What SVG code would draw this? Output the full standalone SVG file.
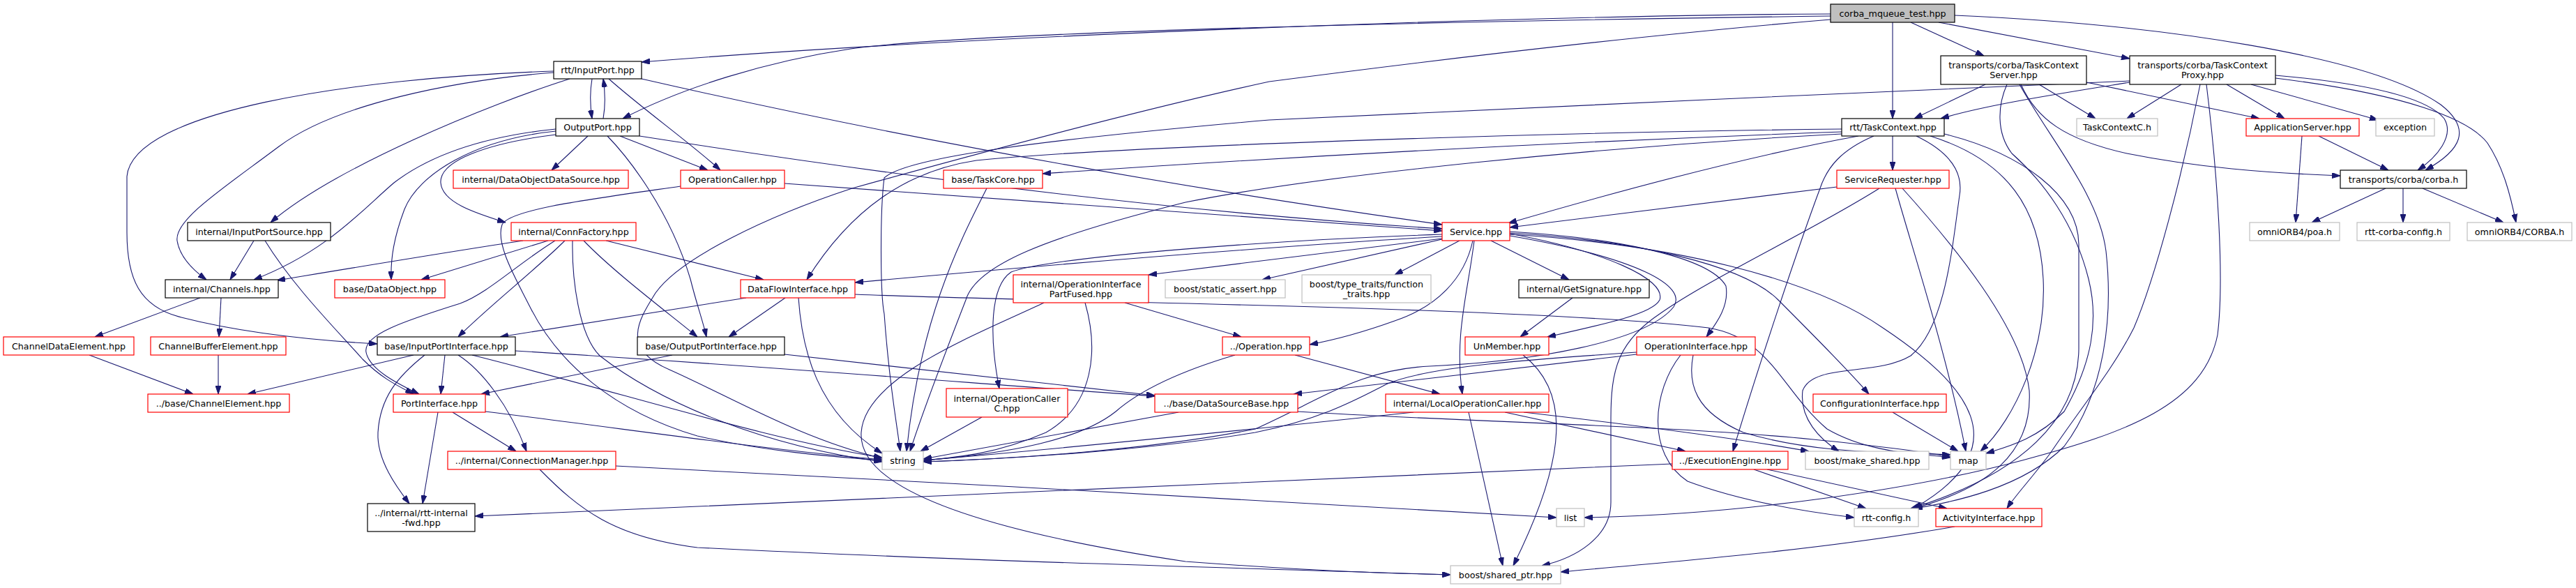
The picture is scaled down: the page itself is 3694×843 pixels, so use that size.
<svg xmlns="http://www.w3.org/2000/svg" width="3694" height="843" viewBox="0 0 3694 843">
<style>
.e{fill:none;stroke:#191970;stroke-width:1.1;marker-end:url(#ah)}
.b{fill:#fff;stroke:#000;stroke-width:1.2}
.r{fill:#fff;stroke:#ff0000;stroke-width:1.2}
.g{fill:#fff;stroke:#bfbfbf;stroke-width:1.2}
.root{fill:#bfbfbf;stroke:#000;stroke-width:1.2}
text{font-family:"DejaVu Sans","Liberation Sans",sans-serif;font-size:12.7px;text-anchor:middle;fill:#000}
</style>
<defs>
<marker id="ah" markerWidth="12" markerHeight="8" refX="12" refY="4" orient="auto" markerUnits="userSpaceOnUse"><path d="M0,0 L12,4 L0,8 z" fill="#191970" stroke="#191970" stroke-width="1"/></marker>
</defs>
<rect width="3694" height="843" fill="#fff"/>
<g id="edges">
<path class="e" d="M2625,20 C2200,22 1400,50 920,89"/>
<path class="e" d="M2625,23 C2100,30 1400,45 1220,70 C1100,88 980,125 893,170"/>
<path class="e" d="M2714,32 L2714,170"/>
<path class="e" d="M2740,32 L2845,80"/>
<path class="e" d="M2780,32 L3054,84"/>
<path class="e" d="M2803,22 C3100,35 3400,80 3500,150 C3545,185 3530,215 3478,244"/>
<path class="e" d="M2625,28 C2300,55 1950,100 1820,117 C1600,165 1330,240 1222,270 C1100,310 975,370 940,420 C915,460 890,500 960,530 C1050,570 1150,630 1265,657"/>
<path class="e" d="M849,113 C846,130 846,150 849,170"/>
<path class="e" d="M865,170 C868,153 868,133 865,113"/>
<path class="e" d="M873,113 C920,155 990,205 1033,244"/>
<path class="e" d="M920,113 C1300,200 1700,270 2068,322"/>
<path class="e" d="M817,113 C700,150 480,240 388,319"/>
<path class="e" d="M794,104 C650,115 480,150 400,210 C320,270 250,315 254,345 C258,370 278,388 296,401"/>
<path class="e" d="M794,102 C500,112 190,160 182,253 L182,333 C182,400 200,440 260,455 C350,478 450,488 541,493"/>
<path class="e" d="M843,195 L791,244"/>
<path class="e" d="M889,195 L1015,244"/>
<path class="e" d="M917,195 C1300,255 1700,305 2068,328"/>
<path class="e" d="M871,195 C900,225 960,300 990,400 C1000,440 1008,460 1013,483"/>
<path class="e" d="M797,185 C700,195 620,220 565,262 C520,300 470,360 364,401"/>
<path class="e" d="M797,188 C680,200 600,250 580,300 C565,340 560,370 561,401"/>
<path class="e" d="M797,193 C700,205 630,230 632,262 C634,290 680,305 725,319"/>
<path class="e" d="M976,267 C850,285 730,300 720,322 C710,350 740,400 760,440 C800,520 880,590 1000,625 C1100,648 1200,655 1265,660"/>
<path class="e" d="M1125,263 C1500,290 1800,310 2068,331"/>
<path class="e" d="M750,345 C650,360 500,385 397,402"/>
<path class="e" d="M786,345 L604,401"/>
<path class="e" d="M810,345 C770,385 700,440 657,483"/>
<path class="e" d="M796,345 C740,380 700,420 660,435 C580,460 520,480 525,505 C530,530 570,550 601,565"/>
<path class="e" d="M821,345 C820,400 830,480 860,510 C950,580 1100,640 1265,662"/>
<path class="e" d="M837,345 C880,390 960,450 1000,483"/>
<path class="e" d="M869,345 L1095,401"/>
<path class="e" d="M364,345 L330,401"/>
<path class="e" d="M380,345 C420,410 480,470 520,515 C550,545 575,555 593,565"/>
<path class="e" d="M287,427 L136,483"/>
<path class="e" d="M317,427 L314,483"/>
<path class="e" d="M128,509 L277,565"/>
<path class="e" d="M313,509 L313,565"/>
<path class="e" d="M593,509 L355,565"/>
<path class="e" d="M638,509 L632,565"/>
<path class="e" d="M657,509 C690,530 730,580 755,647"/>
<path class="e" d="M609,509 C570,540 545,570 542,620 C540,660 570,700 587,722"/>
<path class="e" d="M677,509 C900,565 1100,630 1265,656"/>
<path class="e" d="M739,503 C1100,525 1400,550 1656,568"/>
<path class="e" d="M964,509 L690,565"/>
<path class="e" d="M1125,508 L1656,567"/>
<path class="e" d="M628,591 L606,722"/>
<path class="e" d="M649,591 L740,647"/>
<path class="e" d="M696,590 C900,615 1100,645 1265,659"/>
<path class="e" d="M883,668 C1300,690 1900,720 2232,742"/>
<path class="e" d="M774,673 C830,730 880,770 1000,785 C1400,805 1800,815 2080,824"/>
<path class="e" d="M1070,427 L717,483"/>
<path class="e" d="M1126,427 L1045,483"/>
<path class="e" d="M1145,427 C1150,500 1170,590 1265,650"/>
<path class="e" d="M1226,422 C1500,433 2200,440 2450,470 C2540,485 2555,560 2620,615 C2680,650 2750,650 2797,656"/>
<path class="e" d="M1415,270 C1380,340 1320,450 1300,647"/>
<path class="e" d="M2641,189 C2200,205 1800,228 1495,249"/>
<path class="e" d="M2641,185 C2200,190 1600,210 1400,230 C1300,245 1220,300 1157,401"/>
<path class="e" d="M2641,192 C2300,210 1900,250 1700,290 C1500,340 1400,380 1385,430 C1350,520 1320,600 1305,647"/>
<path class="e" d="M2665,195 C2500,225 2300,280 2163,320"/>
<path class="e" d="M2714,195 L2714,244"/>
<path class="e" d="M2687,195 C2640,215 2620,240 2610,270 C2580,350 2520,530 2485,647"/>
<path class="e" d="M2748,195 C2800,220 2815,250 2810,280 C2800,350 2790,470 2740,510 C2690,540 2600,520 2585,560 C2580,600 2610,630 2637,647"/>
<path class="e" d="M2768,195 C2880,230 2925,300 2930,400 C2935,500 2890,600 2840,647"/>
<path class="e" d="M2788,192 C2900,220 2980,280 2981,350 L2981,500 C2980,600 2900,680 2740,729"/>
<path class="e" d="M2847,121 L2745,170"/>
<path class="e" d="M2924,121 L3005,170"/>
<path class="e" d="M2992,118 L3240,170"/>
<path class="e" d="M2898,121 C2920,170 2960,200 3050,220 C3150,240 3250,248 3356,252"/>
<path class="e" d="M2878,121 C2865,150 2862,190 2885,220 C2930,260 2975,320 2995,400 C3010,460 3000,520 2960,590 C2920,630 2880,640 2848,650"/>
<path class="e" d="M2896,121 C2940,200 3010,280 3020,360 C3030,450 3020,560 2960,640 C2900,700 2800,720 2745,729"/>
<path class="e" d="M3054,118 C2950,135 2850,150 2783,170"/>
<path class="e" d="M3128,121 L3050,170"/>
<path class="e" d="M3193,121 L3276,170"/>
<path class="e" d="M3228,121 L3410,172"/>
<path class="e" d="M3263,108 C3400,120 3480,140 3505,170 C3520,195 3495,225 3467,244"/>
<path class="e" d="M3263,112 C3450,135 3540,170 3567,205 C3590,240 3600,280 3608,319"/>
<path class="e" d="M3054,116 C2800,125 2000,165 1820,172 C1500,200 1300,225 1268,255 C1262,300 1262,420 1268,450 C1275,550 1285,600 1291,647"/>
<path class="e" d="M3155,121 C3130,250 3090,400 3060,470 C3030,530 2980,590 2940,650 C2910,690 2890,710 2878,729"/>
<path class="e" d="M3164,121 C3180,250 3190,400 3180,480 C3160,580 3050,620 2900,660 C2750,700 2500,738 2272,742"/>
<path class="e" d="M2634,268 L2165,326"/>
<path class="e" d="M2718,270 C2740,350 2790,500 2819,647"/>
<path class="e" d="M2728,270 C2800,350 2900,470 2910,560 C2915,650 2850,700 2744,729"/>
<path class="e" d="M2695,270 C2600,330 2450,400 2380,450 C2320,490 2310,530 2310,600 L2310,720 C2310,770 2260,800 2211,811"/>
<path class="e" d="M2068,339 C1800,355 1500,380 1226,405"/>
<path class="e" d="M2068,342 L1647,394"/>
<path class="e" d="M2068,336 C1800,345 1500,370 1450,390 C1420,410 1418,480 1433,557"/>
<path class="e" d="M2068,343 L1810,401"/>
<path class="e" d="M2093,345 L2000,394"/>
<path class="e" d="M2138,345 L2250,401"/>
<path class="e" d="M2112,345 C2100,400 2060,440 2000,460 C1950,478 1910,488 1878,494"/>
<path class="e" d="M2114,345 C2105,420 2085,480 2097,565"/>
<path class="e" d="M2165,335 C2300,360 2390,400 2380,430 C2370,450 2300,465 2219,483"/>
<path class="e" d="M2165,332 C2300,340 2450,365 2475,410 C2480,440 2460,465 2447,483"/>
<path class="e" d="M2165,334 C2350,345 2500,380 2550,430 C2600,480 2650,530 2680,565"/>
<path class="e" d="M2165,336 C2400,350 2600,400 2700,470 C2820,550 2900,640 2744,729"/>
<path class="e" d="M2165,338 C2350,370 2420,410 2400,440 C2360,490 2200,518 2050,525 C1950,530 1900,570 1800,615 C1650,645 1450,658 1324,662"/>
<path class="e" d="M2184,509 C2250,560 2250,650 2170,811"/>
<path class="e" d="M2255,427 L2180,483"/>
<path class="e" d="M2106,591 L2155,811"/>
<path class="e" d="M2027,591 C1800,615 1500,645 1324,660"/>
<path class="e" d="M2158,591 L2417,647"/>
<path class="e" d="M2185,591 C2350,610 2500,630 2594,647"/>
<path class="e" d="M1857,509 L2065,565"/>
<path class="e" d="M1771,509 C1700,530 1640,555 1600,590 C1550,630 1450,650 1324,660"/>
<path class="e" d="M1613,434 L1780,483"/>
<path class="e" d="M1556,434 C1575,500 1570,580 1500,620 C1430,650 1380,655 1324,660"/>
<path class="e" d="M1497,434 C1400,480 1240,540 1235,620 C1230,700 1400,760 1700,805 C1900,820 2000,822 2080,824"/>
<path class="e" d="M1408,598 L1320,647"/>
<path class="e" d="M1690,591 L1324,658"/>
<path class="e" d="M1861,590 C2100,605 2400,610 2600,630 C2700,640 2760,648 2797,655"/>
<path class="e" d="M2347,508 L1855,565"/>
<path class="e" d="M2347,505 C2200,515 2050,525 1990,550 C1950,570 1900,600 1800,620 C1650,645 1450,658 1324,662"/>
<path class="e" d="M2428,509 C2420,550 2430,590 2500,620 C2600,650 2700,648 2797,652"/>
<path class="e" d="M2410,509 C2370,560 2360,650 2420,690 C2500,720 2600,735 2659,742"/>
<path class="e" d="M2398,665 C1800,690 1200,712 681,740"/>
<path class="e" d="M2515,673 L2676,729"/>
<path class="e" d="M2534,673 L2792,729"/>
<path class="e" d="M2714,591 L2808,647"/>
<path class="e" d="M2803,755 C2600,790 2400,805 2238,820"/>
<path class="e" d="M3325,195 L3425,244"/>
<path class="e" d="M3301,195 L3292,319"/>
<path class="e" d="M3421,270 L3315,319"/>
<path class="e" d="M3446,270 L3446,319"/>
<path class="e" d="M3474,270 L3590,319"/>
</g>
<g id="n0"><rect class="root" x="2625" y="6" width="178" height="26"/><text x="2714" y="23.5">corba_mqueue_test.hpp</text></g>
<g id="n1"><rect class="b" x="794" y="88" width="126" height="25"/><text x="857" y="105">rtt/InputPort.hpp</text></g>
<g id="n2"><rect class="b" x="2783" y="80" width="209" height="41"/><text x="2887.5" y="97.5">transports/corba/TaskContext</text><text x="2887.5" y="111.5">Server.hpp</text></g>
<g id="n3"><rect class="b" x="3054" y="80" width="209" height="41"/><text x="3158.5" y="97.5">transports/corba/TaskContext</text><text x="3158.5" y="111.5">Proxy.hpp</text></g>
<g id="n4"><rect class="b" x="797" y="170" width="120" height="25"/><text x="857" y="187">OutputPort.hpp</text></g>
<g id="n5"><rect class="b" x="2641" y="170" width="147" height="25"/><text x="2714.5" y="187">rtt/TaskContext.hpp</text></g>
<g id="n6"><rect class="g" x="2978" y="170" width="116" height="25"/><text x="3036" y="187">TaskContextC.h</text></g>
<g id="n7"><rect class="r" x="3221" y="170" width="162" height="25"/><text x="3302" y="187">ApplicationServer.hpp</text></g>
<g id="n8"><rect class="g" x="3407" y="170" width="84" height="25"/><text x="3449" y="187">exception</text></g>
<g id="n9"><rect class="r" x="650" y="244" width="251" height="26"/><text x="775.5" y="261.5">internal/DataObjectDataSource.hpp</text></g>
<g id="n10"><rect class="r" x="976" y="244" width="149" height="26"/><text x="1050.5" y="261.5">OperationCaller.hpp</text></g>
<g id="n11"><rect class="r" x="1353" y="244" width="142" height="26"/><text x="1424" y="261.5">base/TaskCore.hpp</text></g>
<g id="n12"><rect class="r" x="2634" y="244" width="161" height="26"/><text x="2714.5" y="261.5">ServiceRequester.hpp</text></g>
<g id="n13"><rect class="b" x="3356" y="244" width="181" height="26"/><text x="3446.5" y="261.5">transports/corba/corba.h</text></g>
<g id="n14"><rect class="b" x="269" y="319" width="205" height="26"/><text x="371.5" y="336.5">internal/InputPortSource.hpp</text></g>
<g id="n15"><rect class="r" x="733" y="319" width="179" height="26"/><text x="822.5" y="336.5">internal/ConnFactory.hpp</text></g>
<g id="n16"><rect class="r" x="2068" y="319" width="97" height="26"/><text x="2116.5" y="336.5">Service.hpp</text></g>
<g id="n17"><rect class="g" x="3226" y="319" width="129" height="26"/><text x="3290.5" y="336.5">omniORB4/poa.h</text></g>
<g id="n18"><rect class="g" x="3380" y="319" width="133" height="26"/><text x="3446.5" y="336.5">rtt-corba-config.h</text></g>
<g id="n19"><rect class="g" x="3538" y="319" width="150" height="26"/><text x="3613" y="336.5">omniORB4/CORBA.h</text></g>
<g id="n20"><rect class="b" x="237" y="401" width="162" height="26"/><text x="318" y="418.5">internal/Channels.hpp</text></g>
<g id="n21"><rect class="r" x="480" y="401" width="158" height="26"/><text x="559" y="418.5">base/DataObject.hpp</text></g>
<g id="n22"><rect class="r" x="1062" y="401" width="164" height="26"/><text x="1144" y="418.5">DataFlowInterface.hpp</text></g>
<g id="n23"><rect class="r" x="1453" y="394" width="194" height="40"/><text x="1550" y="411.5">internal/OperationInterface</text><text x="1550" y="425.5">PartFused.hpp</text></g>
<g id="n24"><rect class="g" x="1671" y="401" width="172" height="26"/><text x="1757" y="418.5">boost/static_assert.hpp</text></g>
<g id="n25"><rect class="g" x="1867" y="394" width="185" height="40"/><text x="1959.5" y="411.5">boost/type_traits/function</text><text x="1959.5" y="425.5">_traits.hpp</text></g>
<g id="n26"><rect class="b" x="2178" y="401" width="187" height="26"/><text x="2271.5" y="418.5">internal/GetSignature.hpp</text></g>
<g id="n27"><rect class="r" x="5" y="483" width="187" height="26"/><text x="98.5" y="500.5">ChannelDataElement.hpp</text></g>
<g id="n28"><rect class="r" x="216" y="483" width="194" height="26"/><text x="313" y="500.5">ChannelBufferElement.hpp</text></g>
<g id="n29"><rect class="b" x="541" y="483" width="198" height="26"/><text x="640" y="500.5">base/InputPortInterface.hpp</text></g>
<g id="n30"><rect class="b" x="914" y="483" width="211" height="26"/><text x="1019.5" y="500.5">base/OutputPortInterface.hpp</text></g>
<g id="n31"><rect class="r" x="1753" y="483" width="125" height="26"/><text x="1815.5" y="500.5">../Operation.hpp</text></g>
<g id="n32"><rect class="r" x="2101" y="483" width="120" height="26"/><text x="2161" y="500.5">UnMember.hpp</text></g>
<g id="n33"><rect class="r" x="2347" y="483" width="170" height="26"/><text x="2432" y="500.5">OperationInterface.hpp</text></g>
<g id="n34"><rect class="r" x="212" y="565" width="203" height="26"/><text x="313.5" y="582.5">../base/ChannelElement.hpp</text></g>
<g id="n35"><rect class="r" x="564" y="565" width="132" height="26"/><text x="630" y="582.5">PortInterface.hpp</text></g>
<g id="n36"><rect class="r" x="1357" y="557" width="174" height="41"/><text x="1444" y="575.5">internal/OperationCaller</text><text x="1444" y="589.5">C.hpp</text></g>
<g id="n37"><rect class="r" x="1656" y="565" width="205" height="26"/><text x="1758.5" y="582.5">../base/DataSourceBase.hpp</text></g>
<g id="n38"><rect class="r" x="1987" y="565" width="234" height="26"/><text x="2104" y="582.5">internal/LocalOperationCaller.hpp</text></g>
<g id="n39"><rect class="r" x="2600" y="565" width="191" height="26"/><text x="2695.5" y="582.5">ConfigurationInterface.hpp</text></g>
<g id="n40"><rect class="r" x="642" y="647" width="241" height="26"/><text x="762.5" y="664.5">../internal/ConnectionManager.hpp</text></g>
<g id="n41"><rect class="g" x="1265" y="647" width="59" height="26"/><text x="1294.5" y="664.5">string</text></g>
<g id="n42"><rect class="r" x="2398" y="647" width="166" height="26"/><text x="2481" y="664.5">../ExecutionEngine.hpp</text></g>
<g id="n43"><rect class="g" x="2589" y="647" width="177" height="26"/><text x="2677.5" y="664.5">boost/make_shared.hpp</text></g>
<g id="n44"><rect class="g" x="2797" y="647" width="51" height="26"/><text x="2822.5" y="664.5">map</text></g>
<g id="n45"><rect class="b" x="527" y="722" width="154" height="40"/><text x="604" y="739.5">../internal/rtt-internal</text><text x="604" y="753.5">-fwd.hpp</text></g>
<g id="n46"><rect class="g" x="2232" y="729" width="40" height="26"/><text x="2252" y="746.5">list</text></g>
<g id="n47"><rect class="g" x="2659" y="729" width="92" height="26"/><text x="2705" y="746.5">rtt-config.h</text></g>
<g id="n48"><rect class="r" x="2776" y="729" width="152" height="26"/><text x="2852" y="746.5">ActivityInterface.hpp</text></g>
<g id="n49"><rect class="g" x="2080" y="811" width="158" height="26"/><text x="2159" y="828.5">boost/shared_ptr.hpp</text></g>
</svg>
